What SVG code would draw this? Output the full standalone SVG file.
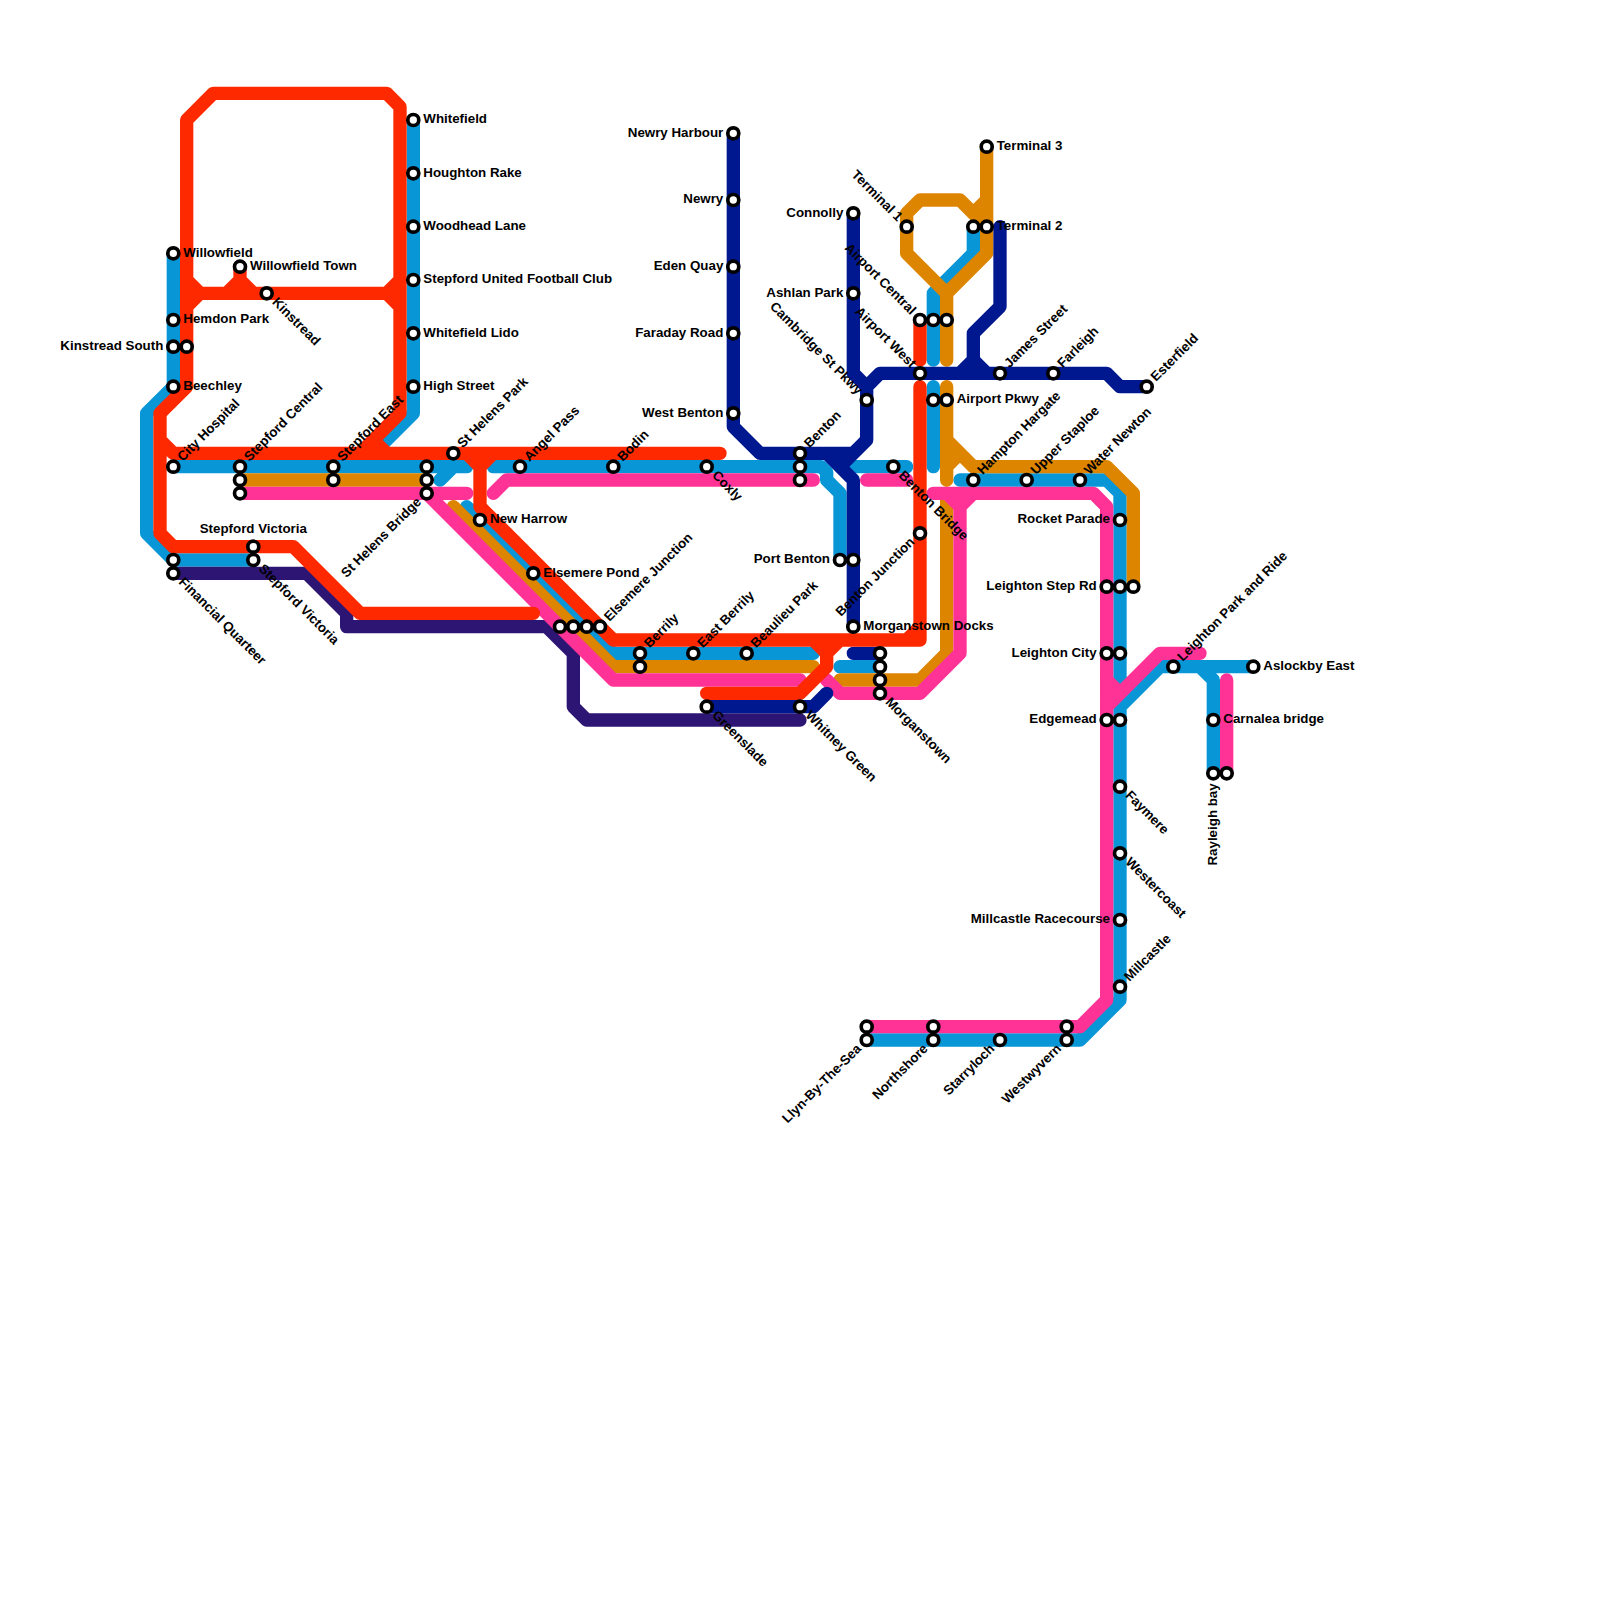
<svg xmlns="http://www.w3.org/2000/svg" width="1600" height="1600" viewBox="0 0 1600 1600">
<style>
.ln{fill:none;stroke-width:1;stroke-linecap:round;stroke-linejoin:round}
.blue{stroke:#0896d7}.orange{stroke:#de8500}.purple{stroke:#2d1574}.pink{stroke:#ff3296}.navy{stroke:#00188f}.red{stroke:#ff2900}
circle{fill:#fff;stroke:#000;stroke-width:3.67}
text{font-family:"Liberation Sans",Arial,sans-serif;font-weight:700;font-size:13.33px;fill:#000}
.e{text-anchor:end}.m{text-anchor:middle}
</style>
<rect width="1600" height="1600" fill="#fff"/>
<g id="connectors" transform="scale(13.33333)">
<path class="ln blue" d="M13 19V29L11 31V40L13 42H19M13 35H35M34 35L33 36M37 35H61.6L62 35.4V36L63 37V42M64 35H68M31 9V31L28 34M35 38L46 49H61M63 50H66M73 17V19L70 22V27M70 29V35M72 36H83L84 37V51M87 50L84 53V75L81 78H65M87 50H94M90 50L91 51V58"/>
<path class="ln orange" d="M18 36H32M34 38L46 50H61M63 51H69L71 49V37M71 29V36M71 33L73 35H83L85 37V44M71 35L72 34M74 11V19L71 22V27M71 22L68 19V16L69 15H72L74 17M74 15L73 16"/>
<path class="ln purple" d="M13 43H23L26 46V47H41L43 49V53L44 54H60"/>
<path class="ln pink" d="M18 37H35M32 37L46 51H60M37 37L38 36H61M65 36H68M70 37H82L83 38V75L81 77H65M71 37L72 38L73 37M72 38V49L69 52H63L62 51M83 51L84 52M83 53L87 49H90M92 51V58"/>
<path class="ln navy" d="M55 10V32L57 34H64L65 33V30M64 34L63 35M62 34L64 36V47M64 49H66M53 53H61L62 52M64 16V28L65 29V30M65 29L66 28H83L84 29H86M75 17V23L73 25V27L72 28M73 27L74 28"/>
<path class="ln red" d="M14 26V9L16 7H29L30 8V31L27 34M28 33L29 34M14 21L15 22H29L30 21M14 23L15 22M29 22L30 23M17 22L18 21V20M18 21L19 22M14 26V29L12 31V40L13 41H22L27 46H40M12 33L13 34H54M35 34L36 35L37 34M36 35V38L46 48H69V29M68 48L69 47M61 48L62 49L63 48M62 49V50L60 52H53M69 24V27"/>
</g>
<g id="s-whitefield"><circle cx="413.3" cy="120" r="5.5"/><text x="423.3" y="123.3">Whitefield</text></g>
<g id="s-houghton-rake"><circle cx="413.3" cy="173.3" r="5.5"/><text x="423.3" y="176.6">Houghton Rake</text></g>
<g id="s-woodhead-lane"><circle cx="413.3" cy="226.7" r="5.5"/><text x="423.3" y="230">Woodhead Lane</text></g>
<g id="s-stepford-united"><circle cx="413.3" cy="280" r="5.5"/><text x="423.3" y="283.3">Stepford United Football Club</text></g>
<g id="s-whitefield-lido"><circle cx="413.3" cy="333.3" r="5.5"/><text x="423.3" y="336.6">Whitefield Lido</text></g>
<g id="s-high-street"><circle cx="413.3" cy="386.7" r="5.5"/><text x="423.3" y="390">High Street</text></g>
<g id="s-willowfield"><circle cx="173.3" cy="253.3" r="5.5"/><text x="183.3" y="256.6">Willowfield</text></g>
<g id="s-hemdon-park"><circle cx="173.3" cy="320" r="5.5"/><text x="183.3" y="323.3">Hemdon Park</text></g>
<g id="s-kinstread-south"><circle cx="173.3" cy="346.7" r="5.5"/><circle cx="186.7" cy="346.7" r="5.5"/><text class="e" x="163.3" y="350">Kinstread South</text></g>
<g id="s-beechley"><circle cx="173.3" cy="386.7" r="5.5"/><text x="183.3" y="390">Beechley</text></g>
<g id="s-willowfield-town"><circle cx="240" cy="266.7" r="5.5"/><text x="250" y="270">Willowfield Town</text></g>
<g id="s-kinstread"><circle cx="266.7" cy="293.3" r="5.5"/><text transform="translate(266.7 293.3) rotate(45)" x="10" y="3.3">Kinstread</text></g>
<g id="s-city-hospital"><circle cx="173.3" cy="466.7" r="5.5"/><text transform="translate(173.3 466.7) rotate(-45)" x="10" y="3.3">City Hospital</text></g>
<g id="s-stepford-central"><circle cx="240" cy="466.7" r="5.5"/><circle cx="240" cy="480" r="5.5"/><circle cx="240" cy="493.3" r="5.5"/><text transform="translate(240 466.7) rotate(-45)" x="10" y="3.3">Stepford Central</text></g>
<g id="s-stepford-east"><circle cx="333.3" cy="466.7" r="5.5"/><circle cx="333.3" cy="480" r="5.5"/><text transform="translate(333.3 466.7) rotate(-45)" x="10" y="3.3">Stepford East</text></g>
<g id="s-st-helens-bridge"><circle cx="426.7" cy="466.7" r="5.5"/><circle cx="426.7" cy="480" r="5.5"/><circle cx="426.7" cy="493.3" r="5.5"/><text class="e" transform="translate(426.7 493.3) rotate(-45)" x="-10" y="3.3">St Helens Bridge</text></g>
<g id="s-st-helens-park"><circle cx="453.3" cy="453.3" r="5.5"/><text transform="translate(453.3 453.3) rotate(-45)" x="10" y="3.3">St Helens Park</text></g>
<g id="s-angel-pass"><circle cx="520" cy="466.7" r="5.5"/><text transform="translate(520 466.7) rotate(-45)" x="10" y="3.3">Angel Pass</text></g>
<g id="s-bodin"><circle cx="613.3" cy="466.7" r="5.5"/><text transform="translate(613.3 466.7) rotate(-45)" x="10" y="3.3">Bodin</text></g>
<g id="s-coxly"><circle cx="706.7" cy="466.7" r="5.5"/><text transform="translate(706.7 466.7) rotate(45)" x="10" y="3.3">Coxly</text></g>
<g id="s-benton"><circle cx="800" cy="453.3" r="5.5"/><circle cx="800" cy="466.7" r="5.5"/><circle cx="800" cy="480" r="5.5"/><text transform="translate(800 453.3) rotate(-45)" x="10" y="3.3">Benton</text></g>
<g id="s-new-harrow"><circle cx="480" cy="520" r="5.5"/><text x="490" y="523.3">New Harrow</text></g>
<g id="s-elsemere-pond"><circle cx="533.3" cy="573.3" r="5.5"/><text x="543.3" y="576.6">Elsemere Pond</text></g>
<g id="s-elsemere-junction"><circle cx="560" cy="626.7" r="5.5"/><circle cx="573.3" cy="626.7" r="5.5"/><circle cx="586.7" cy="626.7" r="5.5"/><circle cx="600" cy="626.7" r="5.5"/><text transform="translate(600 626.7) rotate(-45)" x="10" y="3.3">Elsemere Junction</text></g>
<g id="s-berrily"><circle cx="640" cy="653.3" r="5.5"/><circle cx="640" cy="666.7" r="5.5"/><text transform="translate(640 653.3) rotate(-45)" x="10" y="3.3">Berrily</text></g>
<g id="s-east-berrily"><circle cx="693.3" cy="653.3" r="5.5"/><text transform="translate(693.3 653.3) rotate(-45)" x="10" y="3.3">East Berrily</text></g>
<g id="s-beaulieu-park"><circle cx="746.7" cy="653.3" r="5.5"/><text transform="translate(746.7 653.3) rotate(-45)" x="10" y="3.3">Beaulieu Park</text></g>
<g id="s-greenslade"><circle cx="706.7" cy="706.7" r="5.5"/><text transform="translate(706.7 706.7) rotate(45)" x="10" y="3.3">Greenslade</text></g>
<g id="s-whitney-green"><circle cx="800" cy="706.7" r="5.5"/><text transform="translate(800 706.7) rotate(45)" x="10" y="3.3">Whitney Green</text></g>
<g id="s-stepford-victoria-a"><circle cx="253.3" cy="546.7" r="5.5"/><text class="m" x="253.3" y="533">Stepford Victoria</text></g>
<g id="s-stepford-victoria-b"><circle cx="253.3" cy="560" r="5.5"/><text transform="translate(253.3 560) rotate(45)" x="10" y="3.3">Stepford Victoria</text></g>
<g id="s-financial-quarteer"><circle cx="173.3" cy="560" r="5.5"/><circle cx="173.3" cy="573.3" r="5.5"/><text transform="translate(173.3 573.3) rotate(45)" x="10" y="3.3">Financial Quarteer</text></g>
<g id="s-newry-harbour"><circle cx="733.3" cy="133.3" r="5.5"/><text class="e" x="723.3" y="136.6">Newry Harbour</text></g>
<g id="s-newry"><circle cx="733.3" cy="200" r="5.5"/><text class="e" x="723.3" y="203.3">Newry</text></g>
<g id="s-eden-quay"><circle cx="733.3" cy="266.7" r="5.5"/><text class="e" x="723.3" y="270">Eden Quay</text></g>
<g id="s-faraday-road"><circle cx="733.3" cy="333.3" r="5.5"/><text class="e" x="723.3" y="336.6">Faraday Road</text></g>
<g id="s-west-benton"><circle cx="733.3" cy="413.3" r="5.5"/><text class="e" x="723.3" y="416.6">West Benton</text></g>
<g id="s-connolly"><circle cx="853.3" cy="213.3" r="5.5"/><text class="e" x="843.3" y="216.6">Connolly</text></g>
<g id="s-ashlan-park"><circle cx="853.3" cy="293.3" r="5.5"/><text class="e" x="843.3" y="296.6">Ashlan Park</text></g>
<g id="s-cambridge-st-pkwy"><circle cx="866.7" cy="400" r="5.5"/><text class="e" transform="translate(866.7 400) rotate(45)" x="-10" y="3.3">Cambridge St Pkwy</text></g>
<g id="s-port-benton"><circle cx="840" cy="560" r="5.5"/><circle cx="853.3" cy="560" r="5.5"/><text class="e" x="830" y="563.3">Port Benton</text></g>
<g id="s-morganstown-docks"><circle cx="853.3" cy="626.7" r="5.5"/><text x="863.3" y="630">Morganstown Docks</text></g>
<g id="s-morganstown"><circle cx="880" cy="653.3" r="5.5"/><circle cx="880" cy="666.7" r="5.5"/><circle cx="880" cy="680" r="5.5"/><circle cx="880" cy="693.3" r="5.5"/><text transform="translate(880 693.3) rotate(45)" x="10" y="3.3">Morganstown</text></g>
<g id="s-benton-bridge"><circle cx="893.3" cy="466.7" r="5.5"/><text transform="translate(893.3 466.7) rotate(45)" x="10" y="3.3">Benton Bridge</text></g>
<g id="s-benton-junction"><circle cx="920" cy="533.3" r="5.5"/><text class="e" transform="translate(920 533.3) rotate(-45)" x="-10" y="3.3">Benton Junction</text></g>
<g id="s-terminal-1"><circle cx="906.7" cy="226.7" r="5.5"/><text class="e" transform="translate(906.7 226.7) rotate(45)" x="-10" y="3.3">Terminal 1</text></g>
<g id="s-terminal-2"><circle cx="973.3" cy="226.7" r="5.5"/><circle cx="986.7" cy="226.7" r="5.5"/><text x="996.7" y="230">Terminal 2</text></g>
<g id="s-terminal-3"><circle cx="986.7" cy="146.7" r="5.5"/><text x="996.7" y="150">Terminal 3</text></g>
<g id="s-airport-central"><circle cx="920" cy="320" r="5.5"/><circle cx="933.3" cy="320" r="5.5"/><circle cx="946.7" cy="320" r="5.5"/><text class="e" transform="translate(920 320) rotate(45)" x="-10" y="3.3">Airport Central</text></g>
<g id="s-airport-west"><circle cx="920" cy="373.3" r="5.5"/><text class="e" transform="translate(920 373.3) rotate(45)" x="-10" y="3.3">Airport West</text></g>
<g id="s-airport-pkwy"><circle cx="933.3" cy="400" r="5.5"/><circle cx="946.7" cy="400" r="5.5"/><text x="956.7" y="403.3">Airport Pkwy</text></g>
<g id="s-james-street"><circle cx="1000" cy="373.3" r="5.5"/><text transform="translate(1000 373.3) rotate(-45)" x="10" y="3.3">James Street</text></g>
<g id="s-farleigh"><circle cx="1053.3" cy="373.3" r="5.5"/><text transform="translate(1053.3 373.3) rotate(-45)" x="10" y="3.3">Farleigh</text></g>
<g id="s-esterfield"><circle cx="1146.7" cy="386.7" r="5.5"/><text transform="translate(1146.7 386.7) rotate(-45)" x="10" y="3.3">Esterfield</text></g>
<g id="s-hampton-hargate"><circle cx="973.3" cy="480" r="5.5"/><text transform="translate(973.3 480) rotate(-45)" x="10" y="3.3">Hampton Hargate</text></g>
<g id="s-upper-staploe"><circle cx="1026.7" cy="480" r="5.5"/><text transform="translate(1026.7 480) rotate(-45)" x="10" y="3.3">Upper Staploe</text></g>
<g id="s-water-newton"><circle cx="1080" cy="480" r="5.5"/><text transform="translate(1080 480) rotate(-45)" x="10" y="3.3">Water Newton</text></g>
<g id="s-rocket-parade"><circle cx="1120" cy="520" r="5.5"/><text class="e" x="1110" y="523.3">Rocket Parade</text></g>
<g id="s-leighton-step-rd"><circle cx="1106.7" cy="586.7" r="5.5"/><circle cx="1120" cy="586.7" r="5.5"/><circle cx="1133.3" cy="586.7" r="5.5"/><text class="e" x="1096.7" y="590">Leighton Step Rd</text></g>
<g id="s-leighton-city"><circle cx="1106.7" cy="653.3" r="5.5"/><circle cx="1120" cy="653.3" r="5.5"/><text class="e" x="1096.7" y="656.6">Leighton City</text></g>
<g id="s-edgemead"><circle cx="1106.7" cy="720" r="5.5"/><circle cx="1120" cy="720" r="5.5"/><text class="e" x="1096.7" y="723.3">Edgemead</text></g>
<g id="s-leighton-park-and-ride"><circle cx="1173.3" cy="666.7" r="5.5"/><text transform="translate(1173.3 666.7) rotate(-45)" x="10" y="3.3">Leighton Park and Ride</text></g>
<g id="s-aslockby-east"><circle cx="1253.3" cy="666.7" r="5.5"/><text x="1263.3" y="670">Aslockby East</text></g>
<g id="s-carnalea-bridge"><circle cx="1213.3" cy="720" r="5.5"/><text x="1223.3" y="723.3">Carnalea bridge</text></g>
<g id="s-rayleigh-bay"><circle cx="1213.3" cy="773.3" r="5.5"/><circle cx="1226.7" cy="773.3" r="5.5"/><text class="e" transform="translate(1213.3 773.3) rotate(-90)" x="-10" y="3.3">Rayleigh bay</text></g>
<g id="s-faymere"><circle cx="1120" cy="786.7" r="5.5"/><text transform="translate(1120 786.7) rotate(45)" x="10" y="3.3">Faymere</text></g>
<g id="s-westercoast"><circle cx="1120" cy="853.3" r="5.5"/><text transform="translate(1120 853.3) rotate(45)" x="10" y="3.3">Westercoast</text></g>
<g id="s-millcastle-racecourse"><circle cx="1120" cy="920" r="5.5"/><text class="e" x="1110" y="923.3">Millcastle Racecourse</text></g>
<g id="s-millcastle"><circle cx="1120" cy="986.7" r="5.5"/><text transform="translate(1120 986.7) rotate(-45)" x="10" y="3.3">Millcastle</text></g>
<g id="s-llyn-by-the-sea"><circle cx="866.7" cy="1026.7" r="5.5"/><circle cx="866.7" cy="1040" r="5.5"/><text class="e" transform="translate(866.7 1040) rotate(-45)" x="-10" y="3.3">Llyn-By-The-Sea</text></g>
<g id="s-northshore"><circle cx="933.3" cy="1026.7" r="5.5"/><circle cx="933.3" cy="1040" r="5.5"/><text class="e" transform="translate(933.3 1040) rotate(-45)" x="-10" y="3.3">Northshore</text></g>
<g id="s-starryloch"><circle cx="1000" cy="1040" r="5.5"/><text class="e" transform="translate(1000 1040) rotate(-45)" x="-10" y="3.3">Starryloch</text></g>
<g id="s-westwyvern"><circle cx="1066.7" cy="1026.7" r="5.5"/><circle cx="1066.7" cy="1040" r="5.5"/><text class="e" transform="translate(1066.7 1040) rotate(-45)" x="-10" y="3.3">Westwyvern</text></g>
</svg>
